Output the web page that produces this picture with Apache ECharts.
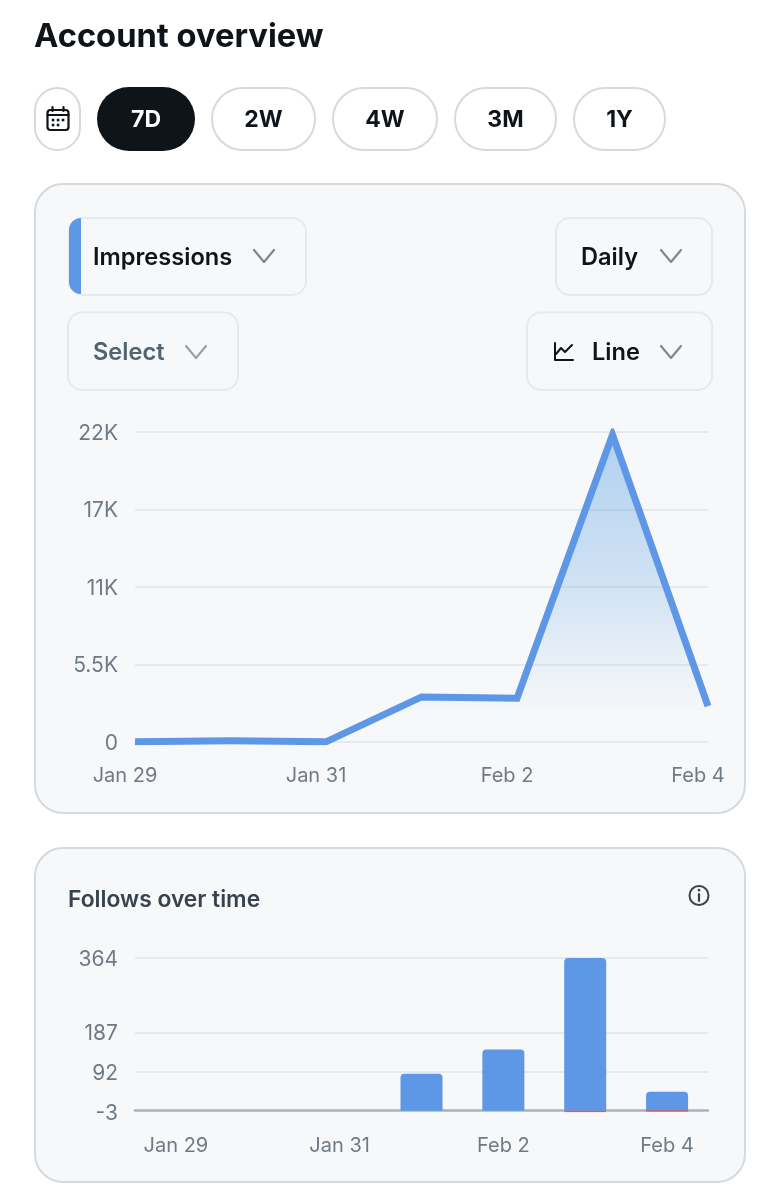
<!DOCTYPE html>
<html><head><meta charset="utf-8">
<style>html,body{margin:0;padding:0;background:#fff}#c{width:780px;height:1200px}</style>
<script src="https://cdn.jsdelivr.net/npm/echarts@6/dist/echarts.min.js"></script>
</head><body><div id="c"></div>
<script>
const days = ['Jan 29','Jan 30','Jan 31','Feb 1','Feb 2','Feb 3','Feb 4'];
const impressions = [20,80,10,3200,3100,21800,2550];
const impressionTickValues = [0,5500,11000,16500,22000];
const impressionTickLabels = ['0','5.5K','11K','17K','22K'];
const follows = [0,0,0,88,146,364,45];
const unfollows = [null,null,null,null,null,-3,-1];
const followTickValues = [-3,92,187,364];
const rangeButtons = ['7D','2W','4W','3M','1Y'];

const FONT = 'Inter, "Noto Sans", sans-serif';
const BLUE = '#5e97e5', BORDER = '#d5dadf', CARD = '#f7f8f9', INK = '#0f1419', SOFT = '#e7e9ec';
const Z = 0;
const rect = (x,y,w,h,r,fill,stroke,lw) => ({type:'rect',z:Z,silent:true,shape:{x,y,width:w,height:h,r},style:{fill:fill||'none',stroke:stroke||'none',lineWidth:lw||0}});
const text = (s,x,y,size,weight,fill,align) => ({type:'text',z:Z+1,silent:true,style:{text:s,x,y,fill,align:align||'left',verticalAlign:'middle',font:`${weight} ${size}px ${FONT}`}});
const poly = (pts,stroke,lw) => ({type:'polyline',z:Z+1,silent:true,shape:{points:pts},style:{fill:'none',stroke,lineWidth:lw,lineCap:'round',lineJoin:'round'}});
const chevron = (cx,cy,c) => poly([[cx-10,cy-6],[cx,cy+6],[cx+10,cy-6]],c||'#808890',2.2);
const buttonBoxes = [[212,103],[333,104],[455,101],[574,91]];

const g = [];
g.push(text('Account overview',34,37.5,32.7,700,INK));
// range buttons
g.push(rect(35,88,45,62,22.5,'#fff',BORDER,2));
g.push(rect(97,87,98,64,32,INK));
g.push(text(rangeButtons[0],146,120.5,23,700,'#fff','center'));
buttonBoxes.forEach((b,i)=>{
  g.push(rect(b[0],88,b[1],62,31,'#fff',BORDER,2));
  g.push(text(rangeButtons[i+1],b[0]+b[1]/2,120.5,23,700,INK,'center'));
});
// calendar icon
g.push(rect(47.5,110,21,20,3,'none',INK,2.2));
g.push(poly([[47.5,115],[68.5,115]],INK,2.2));
g.push(poly([[52.5,107],[52.5,111]],INK,2.2));
g.push(poly([[63.5,107],[63.5,111]],INK,2.2));
[[53,120],[58,120],[63,120],[53,125],[58,125]].forEach(p=>g.push(rect(p[0]-1.25,p[1]-1.25,2.6,2.6,0,INK)));
// first card
g.push(rect(35,184,710,629,28,CARD,BORDER,2));
g.push(rect(69,218,237,77,14,CARD,SOFT,2));
g.push(rect(69,218,12,76,[12,0,0,12],BLUE));
g.push(text('Impressions',93,258,23.6,600,INK));
g.push(chevron(264,256));
g.push(rect(556,218,156,77,14,CARD,SOFT,2));
g.push(text('Daily',581,258,23.6,600,INK));
g.push(chevron(671,256));
g.push(rect(68,312.5,170,77.5,14,CARD,SOFT,2));
g.push(text('Select',93,353,23.6,600,'#536471'));
g.push(chevron(196,352,'#9aa3aa'));
g.push(rect(527,312.5,185,77.5,14,CARD,SOFT,2));
g.push(poly([[555,343],[555,360],[573,360]],INK,2));
g.push(poly([[556,354],[561,348],[565,352],[572,345]],INK,2));
g.push(text('Line',592,353,23.6,600,INK));
g.push(chevron(671,352));
// second card
g.push(rect(35,848,710,334,28,CARD,BORDER,2));
g.push(text('Follows over time',68,900,22.8,600,'#38434f'));
g.push({type:'circle',z:1,silent:true,shape:{cx:699,cy:895.5,r:9.5},style:{fill:'none',stroke:'#38434f',lineWidth:2}});
g.push(poly([[699,894],[699,901]],'#38434f',2.2));
g.push(poly([[699,890],[699,890.2]],'#38434f',2.6));

const yLabel = {color:'#6f7a85',fontFamily:FONT,fontSize:21,fontWeight:400,verticalAlign:'top',verticalAlignMinLabel:'top',verticalAlignMaxLabel:'top',lineHeight:3};
const xLabel = {color:'#6f7a85',fontFamily:FONT,fontSize:20,fontWeight:400};
const chart = echarts.init(document.getElementById('c'));
chart.setOption({
  animation:false,
  backgroundColor:'#fff',
  textStyle:{fontFamily:FONT},
  graphic:{elements:g},
  grid:[
    {left:135,top:432,width:573,height:310,containLabel:false},
    {left:135,top:958,width:573,height:154,containLabel:false}
  ],
  xAxis:[
    {type:'category',gridIndex:0,data:days,boundaryGap:false,
     axisLine:{show:false},axisTick:{show:false},
     axisLabel:Object.assign({},xLabel,{interval:1,margin:24,padding:[0,20,0,0],hideOverlap:false,showMinLabel:true,showMaxLabel:true,alignMinLabel:'center',alignMaxLabel:'center'})},
    {type:'category',gridIndex:1,data:days,
     axisLine:{show:true,onZero:true,lineStyle:{color:'#a9b3bc',width:2.5}},axisTick:{show:false},
     axisLabel:Object.assign({},xLabel,{interval:1,margin:24})}
  ],
  yAxis:[
    {type:'value',gridIndex:0,min:0,max:22000,
     axisLine:{show:false},axisTick:{show:false,customValues:impressionTickValues},
     splitLine:{show:true,lineStyle:{color:'#e6eaed',width:2}},
     axisLabel:Object.assign({},yLabel,{margin:17,customValues:impressionTickValues,
       formatter:v=>impressionTickLabels[impressionTickValues.indexOf(v)]})},
    {type:'value',gridIndex:1,min:-3,max:364,
     axisLine:{show:false},axisTick:{show:false,customValues:followTickValues},
     splitLine:{show:true,showMinLine:false,lineStyle:{color:'#e6eaed',width:2}},
     axisLabel:Object.assign({},yLabel,{margin:17,customValues:followTickValues})}
  ],
  series:[
    {type:'line',name:'Impressions',xAxisIndex:0,yAxisIndex:0,data:impressions,showSymbol:false,symbol:'none',smooth:false,
     lineStyle:{color:BLUE,width:7,join:'miter',miterLimit:10,cap:'butt'},
     areaStyle:{color:new echarts.graphic.LinearGradient(0,0,0,1,[
       {offset:0,color:'rgba(84,156,226,0.62)'},{offset:0.5,color:'rgba(84,156,226,0.33)'},{offset:0.75,color:'rgba(84,156,226,0.12)'},{offset:0.93,color:'rgba(84,156,226,0)'},{offset:1,color:'rgba(84,156,226,0)'}])}},
    {type:'bar',name:'Follows',xAxisIndex:1,yAxisIndex:1,stack:'f',data:follows,barWidth:42,
     itemStyle:{color:BLUE,borderRadius:[4,4,0,0]}},
    {type:'bar',name:'Unfollows',xAxisIndex:1,yAxisIndex:1,stack:'f',data:unfollows,barWidth:42,clip:false,z:5,
     itemStyle:{color:'#d9535b',borderColor:'#d9535b',borderWidth:0.8,borderRadius:[0,0,2,2]}}
  ]
});
</script></body></html>
